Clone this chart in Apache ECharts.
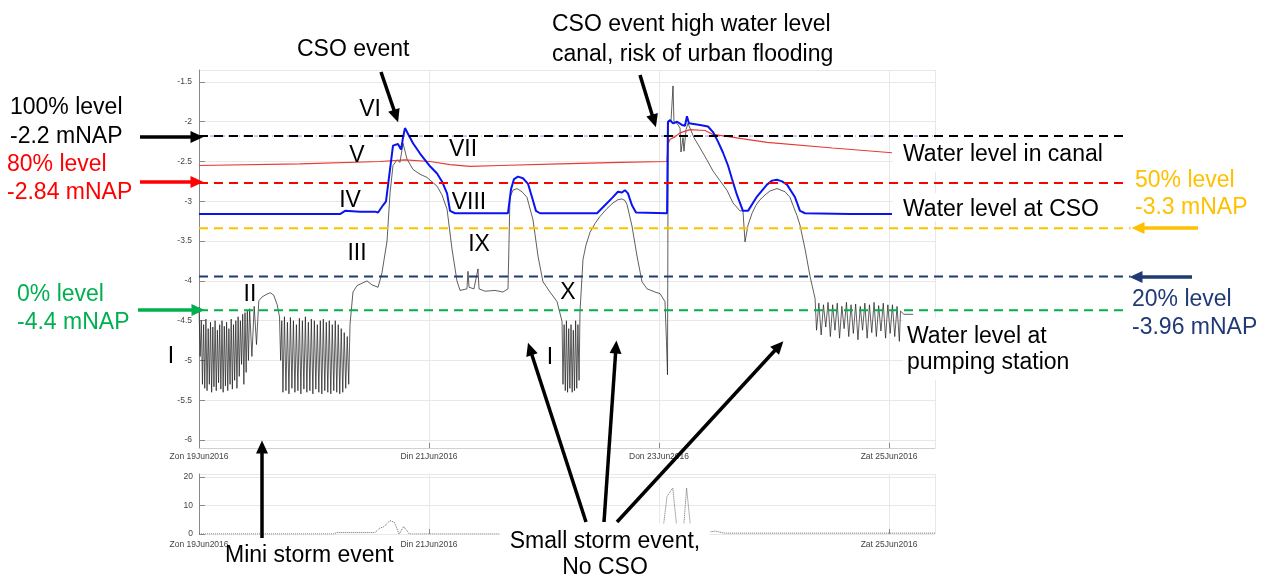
<!DOCTYPE html>
<html><head><meta charset="utf-8">
<script src="https://cdn.jsdelivr.net/npm/echarts@6/dist/echarts.min.js"></script>
<style>html,body{margin:0;padding:0;background:#fff}#c{width:1270px;height:579px}</style>
</head><body><div id="c"></div>
<script>
// x values are days since Zon 19Jun2016 00:00
const xTickLabels = ['Zon 19Jun2016','Din 21Jun2016','Don 23Jun2016','Zat 25Jun2016'];

const canalLevel = [[0,-2.55],[0.878,-2.53],[1.574,-2.5],[1.791,-2.48],[2.009,-2.5],[2.183,-2.54],[2.357,-2.56],[2.617,-2.55],[3.139,-2.53],[3.661,-2.51],[4.07,-2.5],[4.078,-2.28],[4.096,-2.22],[4.139,-2.19],[4.183,-2.14],[4.27,-2.1],[4.4,-2.11],[4.47,-2.16],[4.94,-2.26],[5.51,-2.33],[6.026,-2.39]];

const csoLevel = [[0,-3.16],[1.226,-3.16],[1.27,-3.12],[1.4,-3.13],[1.53,-3.13],[1.557,-3.14],[1.6,-3.05],[1.626,-3.0],[1.661,-2.6],[1.687,-2.3],[1.73,-2.28],[1.757,-2.35],[1.774,-2.2],[1.791,-2.08],[1.817,-2.15],[1.861,-2.27],[1.922,-2.4],[2.009,-2.56],[2.07,-2.65],[2.113,-2.75],[2.157,-2.9],[2.183,-3.12],[2.226,-3.15],[2.687,-3.15],[2.713,-2.85],[2.739,-2.72],[2.774,-2.69],[2.817,-2.71],[2.861,-2.78],[2.896,-2.95],[2.93,-3.12],[2.965,-3.15],[3.461,-3.15],[3.53,-3.05],[3.591,-2.96],[3.643,-2.88],[3.678,-2.89],[3.704,-2.86],[3.73,-2.9],[3.765,-3.05],[3.8,-3.14],[4.07,-3.15],[4.078,-2.0],[4.096,-1.98],[4.122,-2.02],[4.157,-2.0],[4.2,-2.04],[4.226,-2.05],[4.243,-1.93],[4.26,-2.02],[4.357,-2.04],[4.426,-2.06],[4.47,-2.13],[4.513,-2.25],[4.557,-2.39],[4.6,-2.55],[4.635,-2.72],[4.678,-2.92],[4.73,-3.12],[4.774,-3.12],[4.852,-2.94],[4.939,-2.79],[4.983,-2.74],[5.026,-2.73],[5.07,-2.75],[5.113,-2.79],[5.183,-2.95],[5.226,-3.12],[5.27,-3.15],[5.661,-3.16],[6.026,-3.16]];

const pumpLevel = [
[0.000,-4.33],[0.010,-4.95],[0.020,-4.50],[0.030,-5.30],[0.040,-4.55],[0.050,-5.35],[0.060,-4.48],[0.070,-5.38],[0.080,-4.60],[0.090,-5.30],[0.100,-4.52],[0.110,-5.40],[0.120,-4.58],[0.130,-5.33],[0.140,-4.50],[0.150,-5.38],[0.160,-4.62],[0.170,-5.28],[0.180,-4.55],[0.190,-5.36],[0.200,-4.50],[0.210,-5.40],[0.220,-4.57],[0.230,-5.32],[0.240,-4.52],[0.250,-5.38],[0.260,-4.60],[0.270,-5.30],[0.280,-4.48],[0.290,-5.36],[0.300,-4.55],[0.310,-5.25],[0.320,-4.50],[0.330,-5.35],[0.340,-4.45],[0.350,-5.20],[0.360,-4.50],[0.370,-5.05],[0.380,-4.42],[0.390,-5.30],[0.400,-4.40],[0.410,-5.15],[0.420,-4.38],[0.430,-5.00],[0.440,-4.35],[0.460,-4.95],[0.480,-4.32],[0.500,-4.80],[0.520,-4.25],[0.550,-4.20],[0.600,-4.16],[0.620,-4.15],[0.650,-4.18],[0.680,-4.30],[0.700,-4.45],
[0.710,-5.00],[0.720,-4.50],[0.730,-5.40],[0.743,-4.45],[0.756,-5.38],[0.769,-4.52],[0.782,-5.42],[0.795,-4.46],[0.808,-5.35],[0.821,-4.50],[0.834,-5.40],[0.847,-4.55],[0.860,-5.38],[0.873,-4.47],[0.886,-5.42],[0.899,-4.50],[0.912,-5.36],[0.925,-4.45],[0.938,-5.40],[0.951,-4.52],[0.964,-5.38],[0.977,-4.48],[0.990,-5.42],[1.003,-4.50],[1.016,-5.36],[1.029,-4.55],[1.042,-5.40],[1.055,-4.50],[1.068,-5.42],[1.081,-4.48],[1.094,-5.38],[1.107,-4.52],[1.120,-5.40],[1.133,-4.50],[1.146,-5.42],[1.159,-4.55],[1.172,-5.38],[1.185,-4.50],[1.198,-5.40],[1.211,-4.55],[1.224,-5.42],[1.237,-4.60],[1.250,-5.40],[1.263,-4.65],[1.276,-5.35],[1.289,-4.70],[1.302,-5.30],[1.313,-4.55],
[1.339,-4.14],[1.374,-4.06],[1.417,-4.03],[1.461,-4.00],[1.504,-4.05],[1.557,-4.08],[1.591,-3.90],[1.635,-3.50],[1.661,-2.90],[1.687,-2.55],[1.722,-2.48],[1.748,-2.51],[1.774,-2.27],[1.809,-2.47],[1.861,-2.60],[1.922,-2.66],[1.983,-2.70],[2.070,-2.81],[2.113,-2.92],[2.157,-3.10],[2.200,-3.60],[2.243,-4.00],[2.270,-4.12],[2.330,-4.10],[2.339,-3.88],[2.348,-4.08],[2.391,-4.10],[2.426,-3.85],[2.435,-4.10],[2.487,-4.13],[2.574,-4.12],[2.643,-4.14],[2.687,-4.10],[2.704,-2.95],[2.730,-2.86],[2.765,-2.84],[2.809,-2.88],[2.852,-2.95],[2.904,-3.23],[2.948,-3.69],[2.991,-4.01],[3.052,-4.14],[3.113,-4.26],[3.157,-4.51],
[3.165,-5.30],[3.175,-4.55],[3.185,-5.38],[3.195,-4.50],[3.205,-5.40],[3.215,-4.60],[3.225,-5.35],[3.235,-4.55],[3.245,-5.40],[3.255,-4.62],[3.265,-5.38],[3.275,-4.50],[3.285,-5.35],[3.295,-4.55],[3.305,-5.25],[3.313,-4.39],
[3.339,-3.73],[3.365,-3.55],[3.400,-3.39],[3.443,-3.28],[3.487,-3.19],[3.548,-3.09],[3.600,-3.02],[3.643,-2.98],[3.678,-2.97],[3.704,-2.99],[3.722,-3.04],[3.765,-3.31],[3.809,-3.69],[3.852,-4.01],[3.896,-4.10],[3.965,-4.14],[4.009,-4.16],[4.052,-4.26],[4.065,-4.76],[4.074,-5.18],[4.078,-5.20],[4.080,-2.00],[4.090,-2.02],[4.104,-2.00],[4.122,-1.55],[4.130,-2.00],[4.157,-2.02],[4.183,-2.08],[4.191,-2.38],[4.209,-2.20],[4.217,-2.37],[4.235,-2.10],[4.252,-2.02],[4.304,-2.20],[4.357,-2.33],[4.417,-2.48],[4.470,-2.62],[4.530,-2.74],[4.591,-2.86],[4.643,-3.02],[4.704,-3.12],[4.730,-3.12],[4.748,-3.51],[4.774,-3.30],[4.809,-3.15],[4.843,-3.05],[4.878,-2.98],[4.922,-2.92],[4.965,-2.87],[5.026,-2.84],[5.096,-2.88],[5.139,-2.95],[5.165,-3.05],[5.200,-3.18],[5.226,-3.30],[5.270,-3.60],[5.313,-3.94],[5.357,-4.22],
[5.37,-4.62],[5.39,-4.28],[5.41,-4.68],[5.43,-4.30],[5.45,-4.58],[5.47,-4.27],[5.49,-4.70],[5.51,-4.30],[5.53,-4.62],[5.55,-4.28],[5.57,-4.72],[5.59,-4.32],[5.61,-4.60],[5.63,-4.27],[5.65,-4.70],[5.67,-4.30],[5.69,-4.66],[5.71,-4.29],[5.73,-4.74],[5.75,-4.32],[5.77,-4.62],[5.79,-4.28],[5.81,-4.72],[5.83,-4.30],[5.85,-4.65],[5.87,-4.27],[5.89,-4.70],[5.91,-4.31],[5.93,-4.63],[5.95,-4.28],[5.97,-4.72],[5.99,-4.30],[6.01,-4.66],[6.03,-4.30],[6.05,-4.70],[6.07,-4.32],[6.09,-4.76],[6.10,-4.38],[6.13,-4.42],[6.21,-4.42]
];

const rainfall = [[0,0],[1.17,0],[1.2,0.5],[1.53,0.5],[1.57,2.0],[1.61,2.6],[1.66,4.7],[1.70,4.0],[1.74,0],[1.78,2.6],[1.83,0],[4.03,0],[4.07,13.2],[4.12,16.1],[4.16,0],[4.21,0],[4.24,16.1],[4.28,0],[4.49,1.0],[4.57,0.3],[4.81,0.3],[4.82,1.0],[4.84,0.3],[6.4,0.3]];

const refLevels = [-2.18, -2.77, -3.34, -3.945, -4.37];
const refColors = ['#000000', '#ff0000', '#ffc000', '#1f3a75', '#00b050'];
const refEndDay = [8.05, 8.08, 8.10, 8.10, 8.04];

const FONT = '"Liberation Sans", Arial, Helvetica, sans-serif';
const big = '23px ' + FONT;

// annotation arrows (pixel positions)
const arrows = [
  [140,137,197,137,'#000000'],
  [140,182,197,182,'#ff0000'],
  [138,310,198,310,'#00b050'],
  [1198,228,1138,228,'#ffc000'],
  [1192,277,1136,277,'#1f3a75'],
  [381,72,396,116,'#000000'],
  [640,75,654,121,'#000000'],
  [262,538,262,447,'#000000'],
  [586,522,530,349,'#000000'],
  [604,522,616,347,'#000000'],
  [617,522,779,346,'#000000']
];

const notes = [
  ['CSO event',297,50,'#000','left',null],
  ['CSO event high water level',552,25,'#000','left',null],
  ['canal, risk of urban flooding',552,55,'#000','left',null],
  ['VI',370,110,'#000','center',null],
  ['V',357,156,'#000','center',null],
  ['IV',350,201,'#000','center',null],
  ['III',357,254,'#000','center',null],
  ['II',250,295,'#000','center',null],
  ['I',171,357,'#000','center',null],
  ['VII',463,150,'#000','center',null],
  ['VIII',469,203,'#000','center',null],
  ['IX',479,245,'#000','center',null],
  ['X',568,293,'#000','center',null],
  ['I',550,358,'#000','center',null],
  ['100% level',10,108,'#000','left',null],
  ['-2.2 mNAP',10,137,'#000','left',null],
  ['80% level',7,165,'#ff0000','left',null],
  ['-2.84 mNAP',7,193,'#ff0000','left',null],
  ['0% level',17,295,'#00b050','left',null],
  ['-4.4 mNAP',17,323,'#00b050','left',null],
  ['Water level in canal',903,155,'#000','left',null],
  ['Water level at CSO',903,210,'#000','left',null],
  ['50% level',1135,181,'#ffc000','left',null],
  ['-3.3 mNAP',1135,208,'#ffc000','left',null],
  ['20% level',1132,300,'#1f3a75','left',null],
  ['-3.96 mNAP',1132,328,'#1f3a75','left',null],
  ['Water level at',907,337,'#000','left',null],
  ['pumping station',907,363,'#000','left',null],
  ['Mini storm event',225,556,'#000','left',null],
  ['Small storm event,\nNo CSO',605,555,'#000','center',[6,10,5,10]]
];

// white panels behind the right-hand labels (hide grid lines there)
const labelPanels = [[893,140,46,32],[893,193,46,28],[903,318,36,62]];

const tickLabelStyle = {fontSize: 8.5, color: '#444', fontFamily: FONT};
const gridLine = {show: true, lineStyle: {color: '#e8e8e8', width: 1}};
function dayLabel(v) { return (Math.abs(v / 2 - Math.round(v / 2)) < 1e-6) ? (xTickLabels[Math.round(v / 2)] || '') : ''; }

const chart = echarts.init(document.getElementById('c'), null, {renderer: 'canvas'});

const series = [
  {type:'line', xAxisIndex:0, yAxisIndex:0, data: pumpLevel, showSymbol:false, z:2,
   lineStyle:{color:'#1a1a1a', width:0.7}},
  {type:'line', xAxisIndex:0, yAxisIndex:0, data: [[0, refLevels[0]], [6.4, refLevels[0]]], showSymbol:false, z:2,
   lineStyle:{color:'#8f8fe8', width:1, type:[4,3,1,3]}},
  {type:'line', xAxisIndex:0, yAxisIndex:0, data: canalLevel, showSymbol:false, z:4, lineStyle:{color:'#e83a35', width:1.2}},
  {type:'line', xAxisIndex:0, yAxisIndex:0, data: csoLevel, showSymbol:false, z:5, lineStyle:{color:'#0a14f0', width:2}},
  {type:'line', xAxisIndex:2, yAxisIndex:2, data: rainfall, showSymbol:false, z:2, lineStyle:{color:'#666', width:1, type:'dotted'}}
];
refLevels.forEach((lv, i) => {
  series.push({type:'line', xAxisIndex:1, yAxisIndex:1, data: [[0, lv], [refEndDay[i], lv]], showSymbol:false, z:120, clip:false,
    lineStyle:{color: refColors[i], width:2, type:[9,6]}});
});
series.push({type:'line', xAxisIndex:1, yAxisIndex:1, data: [], showSymbol:false, z:130,
  markLine:{silent:true, animation:false, symbol:['none','triangle'], symbolSize:[12,13],
    label:{show:false}, emphasis:{disabled:true},
    data: arrows.map(a => [{x:a[0], y:a[1], lineStyle:{color:a[4], width:3.5, type:'solid'}, itemStyle:{color:a[4]}}, {x:a[2], y:a[3]}])}});

const graphics = labelPanels.map(p => ({type:'rect', z:50, silent:true, shape:{x:p[0], y:p[1], width:p[2], height:p[3]}, style:{fill:'#fff'}}));
notes.forEach(n => {
  const st = {text:n[0], font: big, fill:n[3], align:n[4], textAlign:n[4], verticalAlign:'middle', textVerticalAlign:'middle', lineHeight:26};
  if (n[5]) { st.backgroundColor = '#fff'; st.padding = n[5]; }
  graphics.push({type:'text', x:n[1], y:n[2], z:100, silent:true, style: st});
});

chart.setOption({
  animation:false,
  backgroundColor:'#fff',
  grid:[
    {left:199, top:70, width:736, height:378},
    {left:199, top:70, width:1071, height:378},
    {left:199, top:474, width:736, height:60}
  ],
  xAxis:[
    {gridIndex:0, type:'value', min:0, max:6.4, interval:2,
     axisLine:{lineStyle:{color:'#d0d0d0'}}, axisTick:{inside:true, length:5, lineStyle:{color:'#888'}},
     axisLabel:Object.assign({margin:4, formatter: dayLabel, showMaxLabel:false}, tickLabelStyle), splitLine:gridLine},
    {gridIndex:1, type:'value', min:0, max:(1071/115), show:false},
    {gridIndex:2, type:'value', min:0, max:6.4, interval:2,
     axisLine:{show:false}, axisTick:{inside:true, length:5, lineStyle:{color:'#888'}},
     axisLabel:Object.assign({margin:6, formatter: dayLabel, showMaxLabel:false}, tickLabelStyle), splitLine:gridLine}
  ],
  yAxis:[
    {gridIndex:0, type:'value', min:-6.1, max:-1.35, splitNumber:9,
     axisLine:{show:true, lineStyle:{color:'#888'}}, axisTick:{show:true, inside:true, length:6, lineStyle:{color:'#888'}},
     axisLabel:Object.assign({margin:7, showMinLabel:false, showMaxLabel:false}, tickLabelStyle), splitLine:gridLine},
    {gridIndex:1, type:'value', min:-6.1, max:-1.35, show:false},
    {gridIndex:2, type:'value', min:0, max:21, interval:10,
     axisLine:{show:true, lineStyle:{color:'#888'}}, axisTick:{show:true, inside:true, length:6, lineStyle:{color:'#888'}},
     axisLabel:Object.assign({margin:6, showMaxLabel:false}, tickLabelStyle), splitLine:gridLine}
  ],
  series: series,
  graphic: {elements: graphics}
});
</script>
</body></html>
